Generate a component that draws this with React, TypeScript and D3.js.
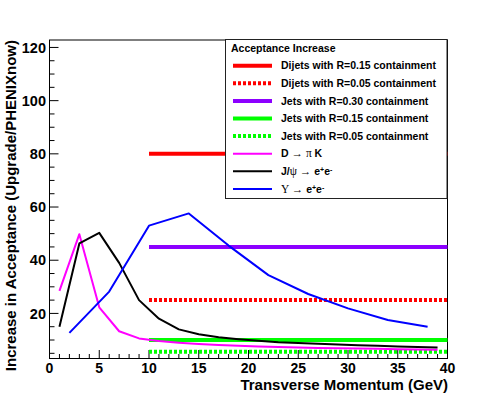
import React, { useEffect, useRef } from 'react';
import * as d3 from 'd3';

// flat acceptance increase, drawn from pT = 10 to 40 GeV
const flatRange = [10, 40];
const dijetsR015 = 80;
const dijetsR005 = 25;
const jetsR030 = 45;
const jetsR015 = 10;
const jetsR005 = 5.6;

// D -> pi K and J/psi -> e+e-, odd pT points
const ptOdd = [1, 3, 5, 7, 9, 11, 13, 15, 17, 19, 21, 23, 25, 27, 29, 31, 33, 35, 37, 39];
const dPiK = [28.5, 49.8, 22.3, 13.3, 10.6, 9.6, 9.0, 8.5, 8.1, 7.8, 7.6, 7.4, 7.2, 7.0, 6.9, 6.8, 6.7, 6.5, 6.4, 6.3];
const jpsi = [15.0, 46.3, 50.3, 39.0, 25.0, 18.0, 14.0, 12.2, 11.0, 10.3, 9.7, 9.2, 8.9, 8.6, 8.3, 8.0, 7.8, 7.6, 7.4, 7.2];

// Upsilon -> e+e-
const ptUps = [2, 6, 10, 14, 18, 22, 26, 30, 34, 38];
const upsilon = [12.7, 28.2, 53.0, 57.6, 45.5, 34.4, 27.3, 21.9, 17.5, 15.0];

const xMajor = [0, 5, 10, 15, 20, 25, 30, 35, 40];
const yMajor = [20, 40, 60, 80, 100, 120];

const legendTitle = 'Acceptance Increase';

type Seg = { t: string; sym?: boolean; sup?: boolean };
const legendLabels: Seg[][] = [
  [{ t: 'Dijets with R=0.15 containment' }],
  [{ t: 'Dijets with R=0.05 containment' }],
  [{ t: 'Jets with R=0.30 containment' }],
  [{ t: 'Jets with R=0.15 containment' }],
  [{ t: 'Jets with R=0.05 containment' }],
  [{ t: 'D ' }, { t: '\u2192 \u03c0', sym: true }, { t: ' K' }],
  [{ t: 'J/' }, { t: '\u03c8 \u2192 ', sym: true }, { t: 'e' }, { t: '+', sup: true }, { t: 'e' }, { t: '-', sup: true }],
  [{ t: '\u03a5 \u2192 ', sym: true }, { t: 'e' }, { t: '+', sup: true }, { t: 'e' }, { t: '-', sup: true }],
];

// styles, same order as legend
const colors = ['#ff0000', '#ff0000', '#8c00ff', '#00ff00', '#00ff00', '#ff00ff', '#000000', '#0000ff'];
const widths = [4, 4, 4, 4, 4, 2, 2, 2];
const dashes = [null, '3,2', null, null, '3,2', null, null, null];

const FONT = '"Liberation Sans", Arial, Helvetica, sans-serif';
const SYMFONT = '"Liberation Serif", "DejaVu Serif", serif';

export default function App() {
  const ref = useRef<SVGSVGElement>(null);

  useEffect(() => {
    const svg = d3.select(ref.current);
    svg.selectAll('*').remove();

    const W = 498, H = 399;
    const frame = { left: 49.5, right: 447.5, top: 40, bottom: 358.5 };

    svg.append('rect').attr('width', W).attr('height', H).attr('fill', '#fff');

    const x = d3.scaleLinear().domain([0, 40]).range([frame.left, frame.right]);
    const y = d3.scaleLinear().domain([3.05, 122.8]).range([frame.bottom, frame.top]);

    // frame
    svg.append('rect')
      .attr('x', frame.left).attr('y', frame.top)
      .attr('width', frame.right - frame.left).attr('height', frame.bottom - frame.top)
      .attr('fill', 'none').attr('stroke', '#000').attr('stroke-width', 1);

    // x ticks (major every 5, minor every 1)
    const ax = svg.append('g');
    d3.range(0, 41, 1).forEach((v) => {
      const len = v % 5 === 0 ? 8.5 : 4.5;
      ax.append('line')
        .attr('x1', x(v)).attr('x2', x(v))
        .attr('y1', frame.bottom).attr('y2', frame.bottom - len)
        .attr('stroke', '#000').attr('stroke-width', 1);
    });
    ax.selectAll('text.xt').data(xMajor).enter().append('text')
      .attr('x', (d) => x(d)).attr('y', 373)
      .attr('text-anchor', 'middle')
      .attr('font-family', FONT).attr('font-weight', 'bold').attr('font-size', 14)
      .text((d) => d);

    // y ticks (major every 20, minor every 5)
    const ay = svg.append('g');
    d3.range(5, 121, 5).forEach((v) => {
      const len = v % 20 === 0 ? 9 : 5;
      ay.append('line')
        .attr('x1', frame.left).attr('x2', frame.left + len)
        .attr('y1', y(v)).attr('y2', y(v))
        .attr('stroke', '#000').attr('stroke-width', 1);
    });
    ay.selectAll('text.yt').data(yMajor).enter().append('text')
      .attr('x', 46).attr('y', (d) => y(d))
      .attr('dy', '0.36em')
      .attr('text-anchor', 'end')
      .attr('font-family', FONT).attr('font-weight', 'bold').attr('font-size', 14.5)
      .text((d) => d);

    // axis titles
    svg.append('text')
      .attr('x', 448).attr('y', 390)
      .attr('text-anchor', 'end')
      .attr('font-family', FONT).attr('font-weight', 'bold').attr('font-size', 15)
      .text('Transverse Momentum (GeV)');
    svg.append('text')
      .attr('transform', `translate(16,${frame.top}) rotate(-90)`)
      .attr('text-anchor', 'end')
      .attr('font-family', FONT).attr('font-weight', 'bold').attr('font-size', 15)
      .text('Increase in Acceptance (Upgrade/PHENIXnow)');

    // flat levels
    const flats = [dijetsR015, dijetsR005, jetsR030, jetsR015, jetsR005];
    const line = d3.line<[number, number]>().x((d) => x(d[0])).y((d) => y(d[1]));
    flats.forEach((lv, i) => {
      svg.append('path')
        .attr('d', line([[flatRange[0], lv], [flatRange[1], lv]]))
        .attr('fill', 'none')
        .attr('stroke', colors[i])
        .attr('stroke-width', widths[i])
        .attr('stroke-dasharray', dashes[i]);
    });

    // curves
    const curves: [number[], number[]][] = [[ptOdd, dPiK], [ptOdd, jpsi], [ptUps, upsilon]];
    curves.forEach(([xs, ys], k) => {
      const i = k + 5;
      svg.append('path')
        .attr('d', line(xs.map((v, j) => [v, ys[j]] as [number, number])))
        .attr('fill', 'none')
        .attr('stroke', colors[i])
        .attr('stroke-width', widths[i])
        .attr('stroke-linejoin', 'round');
    });

    // legend
    const lg = svg.append('g');
    lg.append('rect')
      .attr('x', 225.5).attr('y', 39.5).attr('width', 221.5).attr('height', 159)
      .attr('fill', '#fff').attr('stroke', '#222').attr('stroke-width', 1);
    lg.append('text')
      .attr('x', 231).attr('y', 52.3)
      .attr('font-family', FONT).attr('font-weight', 'bold').attr('font-size', 10.5)
      .text(legendTitle);

    legendLabels.forEach((segs, i) => {
      const ly = 65.7 + i * 17.6;
      lg.append('line')
        .attr('x1', 233).attr('x2', 272)
        .attr('y1', ly).attr('y2', ly)
        .attr('stroke', colors[i])
        .attr('stroke-width', widths[i])
        .attr('stroke-dasharray', dashes[i]);
      const t = lg.append('text')
        .attr('x', 281).attr('y', ly).attr('dy', '0.36em')
        .attr('font-family', FONT).attr('font-weight', 'bold').attr('font-size', 10.5);
      segs.forEach((s) => {
        const ts = t.append('tspan').text(s.t);
        if (s.sym) ts.attr('font-family', SYMFONT).attr('font-weight', 'normal').attr('font-size', 11.5);
        if (s.sup) ts.attr('font-size', 7).attr('baseline-shift', '45%');
      });
    });
  }, []);

  return (
    <svg
      ref={ref}
      width={498}
      height={399}
      style={{ position: 'absolute', left: 0, top: 0, display: 'block' }}
    />
  );
}
